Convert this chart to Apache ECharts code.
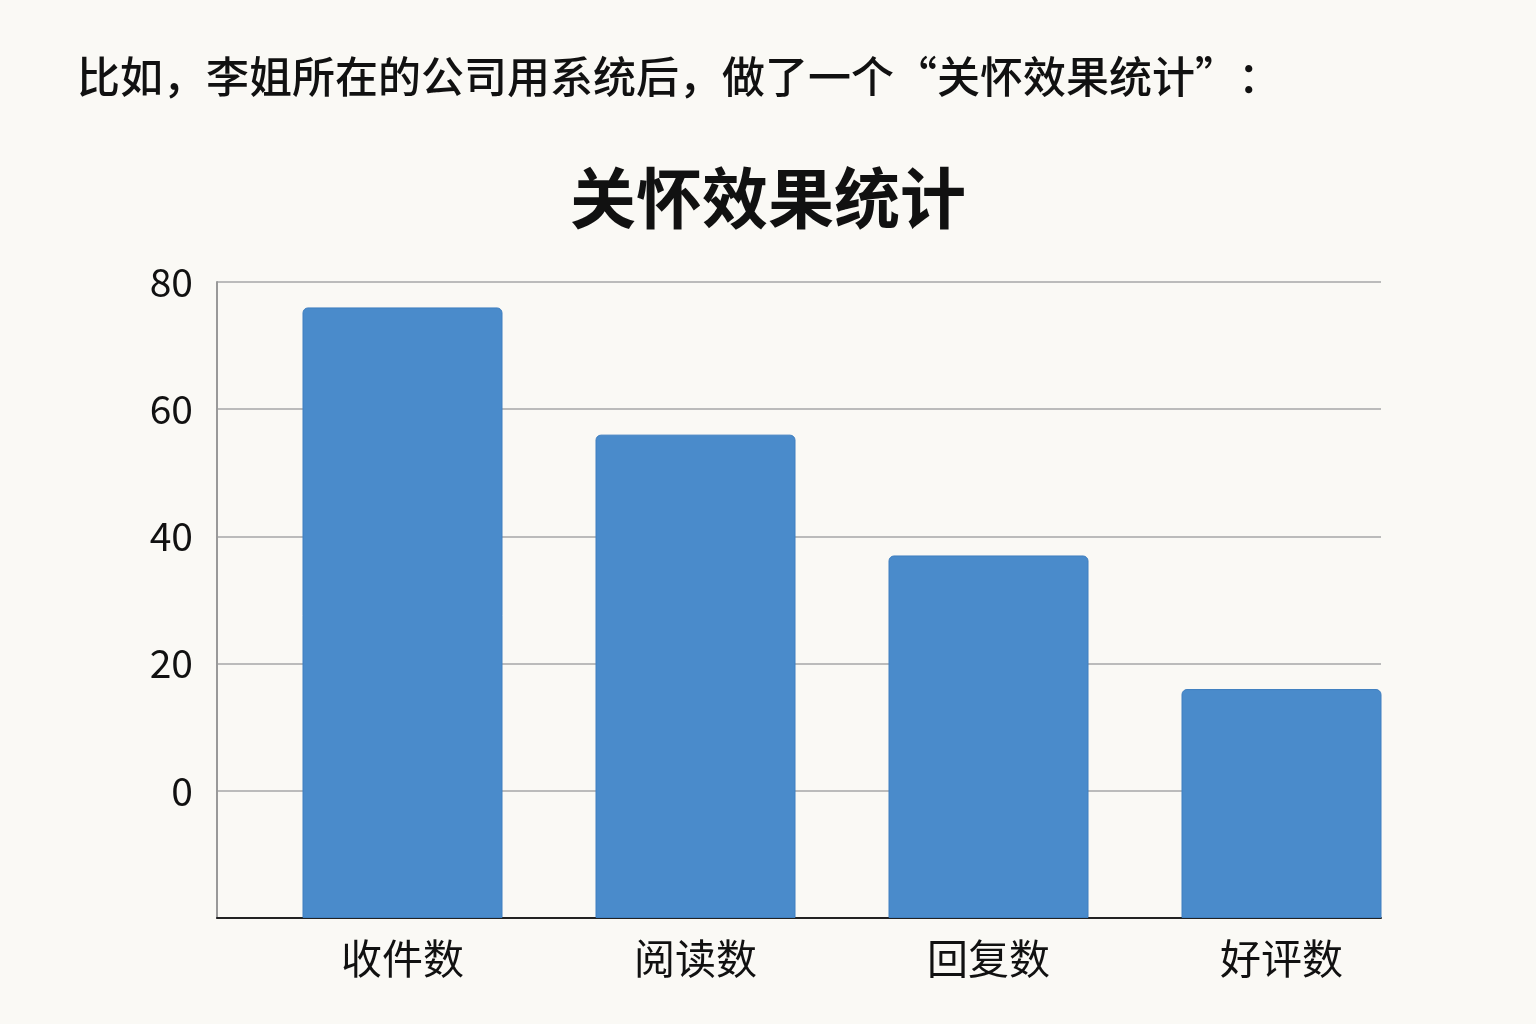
<!DOCTYPE html>
<html><head><meta charset="utf-8">
<script src="https://cdn.jsdelivr.net/npm/echarts@6/dist/echarts.min.js"></script>
<style>html,body{margin:0;background:#faf9f5}#c{width:1536px;height:1024px}</style>
</head><body><div id="c"></div>
<script>
const categories = ['收件数','阅读数','回复数','好评数'];
const values = [76, 56, 37, 16];
const offset = 20; // axis starts 20 units below the "0" tick
const tickLabels = ['0','20','40','60','80'];

const font = '"Noto Sans CJK SC","Noto Sans",sans-serif';
const chart = echarts.init(document.getElementById('c'));
chart.setOption({
  backgroundColor:'#faf9f5',
  animation:false,
  title:[
    {text:'比如，李姐所在的公司用系统后，做了一个“关怀效果统计”：',left:72,top:50,
     textStyle:{fontFamily:font,fontSize:43,fontWeight:500,color:'#111'}},
    {text:'关怀效果统计',left:'center',top:160,
     textStyle:{fontFamily:font,fontSize:66,fontWeight:'bold',color:'#111'}}
  ],
  grid:[
    {left:217,right:155,top:282,bottom:106},
    {left:256,right:108,top:282,bottom:106}
  ],
  xAxis:[
    {gridIndex:0,type:'category',data:[''],axisLine:{lineStyle:{color:'#222',width:2}},
     axisTick:{show:false},axisLabel:{show:false}},
    {gridIndex:1,type:'category',data:categories,axisLine:{show:false},axisTick:{show:false},
     axisLabel:{fontFamily:font,fontSize:41,color:'#111',margin:20}}
  ],
  yAxis:[
    {gridIndex:0,type:'value',min:0,max:100,interval:20,
     axisLine:{show:true,lineStyle:{color:'#999',width:2}},axisTick:{show:false},
     splitLine:{lineStyle:{color:'#bbb',width:2}},
     axisLabel:{fontFamily:font,fontSize:39,color:'#111',margin:24,
       formatter:v=>{const i=(v-offset)/20;return i>=0?tickLabels[i]:'';}}},
    {gridIndex:1,type:'value',min:0,max:100,show:false,splitLine:{show:false}}
  ],
  series:[
    {type:'bar',xAxisIndex:0,yAxisIndex:0,data:[]},
    {type:'bar',xAxisIndex:1,yAxisIndex:1,barWidth:200,
     data:values.map(v=>v+offset),
     itemStyle:{color:'#4a8bcb',borderRadius:[5,5,0,0],borderColor:'#3f7fc0',borderWidth:1}}
  ]
});
</script></body></html>
